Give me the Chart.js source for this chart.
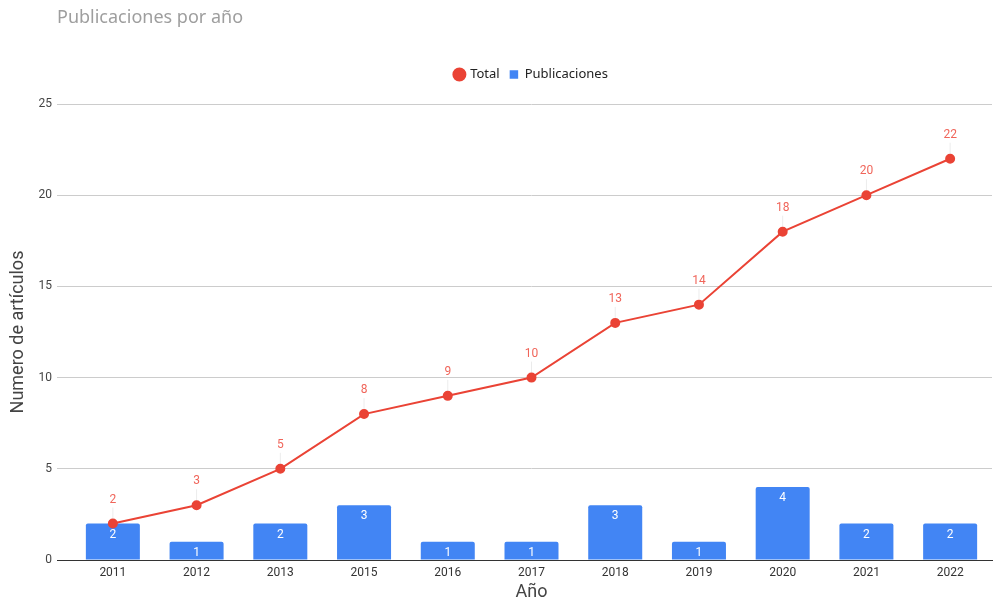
<!DOCTYPE html>
<html>
<head>
<meta charset="utf-8">
<script src="https://cdn.jsdelivr.net/npm/chart.js@4.4.1/dist/chart.umd.min.js"></script>
<style>
  html, body { margin: 0; padding: 0; background: #fff; }
  #wrap { width: 998px; height: 603px; position: relative; }
</style>
</head>
<body>
<div id="wrap"><canvas id="pubChart"></canvas></div>
<script>
var years = ['2011', '2012', '2013', '2015', '2016', '2017', '2018', '2019', '2020', '2021', '2022'];
var publicaciones = [2, 1, 2, 3, 1, 1, 3, 1, 4, 2, 2];
var total = [2, 3, 5, 8, 9, 10, 13, 14, 18, 20, 22];
var yTicks = [0, 5, 10, 15, 20, 25];

var RED = '#EA4335';
var BLUE = '#4285F4';

// heading in the top-left corner
var headingPlugin = {
    id: 'heading',
    afterDraw: function(chart) {
        var c = chart.ctx;
        c.save();
        c.font = '18px "Noto Sans", sans-serif';
        c.fillStyle = '#9e9e9e';
        c.textAlign = 'left';
        c.textBaseline = 'middle';
        c.fillText('Publicaciones por año', 57, 18);
        c.restore();
    }
};

// keep some empty room between the legend and the plot
var legendSpacer = {
    id: 'legendSpacer',
    beforeLayout: function(chart) {
        var lg = chart.legend;
        if (lg && !lg._spaced) {
            var fit = lg.fit;
            lg.fit = function() {
                fit.call(this);
                this.height = 46;
            };
            lg._spaced = true;
        }
    }
};

// value labels: red above the line points, white inside the bars
var valueLabels = {
    id: 'valueLabels',
    afterDatasetsDraw: function(chart) {
        var c = chart.ctx;
        c.save();
        c.font = '12px Roboto, sans-serif';
        c.textAlign = 'center';
        c.textBaseline = 'middle';
        chart.data.datasets.forEach(function(ds, i) {
            var meta = chart.getDatasetMeta(i);
            meta.data.forEach(function(el, j) {
                var v = ds.data[j];
                if (ds.type === 'line') {
                    c.strokeStyle = 'rgba(0,0,0,0.08)';
                    c.lineWidth = 1;
                    c.beginPath();
                    c.moveTo(el.x, el.y - 16);
                    c.lineTo(el.x, el.y - 5);
                    c.stroke();
                    c.fillStyle = '#f0655a';
                    c.fillText(v, el.x, el.y - 24);
                } else {
                    c.fillStyle = '#ffffff';
                    c.fillText(v, el.x, el.y + 11);
                }
            });
        });
        c.restore();
    }
};

var ctx = document.getElementById('pubChart').getContext('2d');
var chart = new Chart(ctx, {
    data: {
        labels: years,
        datasets: [{
            type: 'line',
            label: 'Total',
            data: total,
            borderColor: RED,
            backgroundColor: RED,
            borderWidth: 2,
            pointRadius: 4,
            pointHoverRadius: 4,
            pointStyle: 'circle',
            tension: 0,
            order: 0
        }, {
            type: 'bar',
            label: 'Publicaciones',
            data: publicaciones,
            backgroundColor: BLUE,
            borderRadius: 2,
            borderSkipped: 'bottom',
            categoryPercentage: 0.645,
            barPercentage: 1,
            pointStyle: 'rect',
            order: 1
        }]
    },
    options: {
        responsive: true,
        maintainAspectRatio: false,
        animation: false,
        layout: { padding: { top: 58, right: 6, left: 0, bottom: 0 } },
        plugins: {
            title: { display: false },
            tooltip: { enabled: false },
            legend: {
                display: true,
                position: 'top',
                fullSize: false,
                labels: {
                    usePointStyle: true,
                    boxWidth: 8.5,
                    boxHeight: 8.5,
                    padding: 10,
                    color: '#222',
                    font: { size: 13, family: '"Noto Sans", sans-serif' }
                }
            }
        },
        scales: {
            x: {
                grid: { display: false, drawTicks: false },
                border: { display: true, color: '#333', width: 1 },
                ticks: {
                    color: '#333',
                    padding: 6,
                    font: { size: 12, family: 'Roboto, sans-serif' }
                },
                title: {
                    display: true,
                    text: 'Año',
                    color: '#444',
                    font: { size: 18, family: 'Roboto, sans-serif' },
                    padding: { top: 7, bottom: 0 }
                },
                afterFit: function(scale) { scale.height = 43; }
            },
            y: {
                min: 0,
                max: 25,
                afterBuildTicks: function(scale) {
                    scale.ticks = yTicks.map(function(v) { return { value: v }; });
                },
                grid: {
                    color: function(c) { return c.tick && c.tick.value === 0 ? 'rgba(0,0,0,0)' : '#cccccc'; },
                    tickColor: function(c) { return c.tick && c.tick.value === 0 ? '#333' : '#cccccc'; },
                    drawTicks: true,
                    tickLength: 14
                },
                border: { display: false },
                ticks: {
                    color: '#444',
                    padding: 5,
                    font: { size: 12, family: 'Roboto, sans-serif' }
                },
                title: {
                    display: true,
                    text: 'Numero de artículos',
                    color: '#444',
                    font: { size: 18, family: 'Roboto, sans-serif' },
                    padding: { top: 8, bottom: 0 }
                },
                afterFit: function(scale) { scale.width = 71; }
            }
        }
    },
    plugins: [headingPlugin, legendSpacer, valueLabels]
});
</script>
</body>
</html>
